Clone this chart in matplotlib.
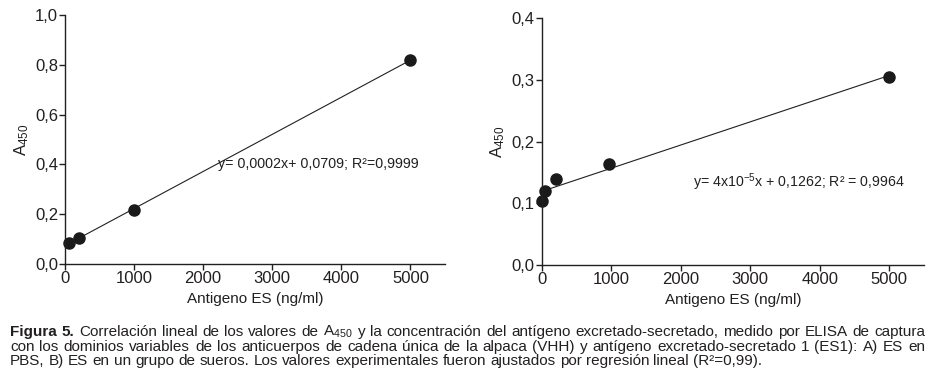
import matplotlib
matplotlib.use("Agg")
import matplotlib.pyplot as plt
import numpy as np

# data
conc_a = [60, 200, 1000, 5000]
abs_a = [0.083, 0.106, 0.217, 0.82]
fit_a_x = [200, 5000]
slope_a, icpt_a = 0.000149, 0.0735

conc_b = [0, 50, 200, 970, 5000]
abs_b = [0.104, 0.1205, 0.139, 0.163, 0.305]
fit_b_x = [50, 5000]
slope_b, icpt_b = 3.76e-5, 0.1193

xticks = [0, 1000, 2000, 3000, 4000, 5000]
yticks_a = [0.0, 0.2, 0.4, 0.6, 0.8, 1.0]
yticks_b = [0.0, 0.1, 0.2, 0.3, 0.4]

eq_a = "y= 0,0002x+ 0,0709; R²=0,9999"
eq_b = "y= 4x10$^{-5}$x + 0,1262; R² = 0,9964"

caption = [
    [("Figura", "bold"), ("5.", "bold")] + [(w, "normal") for w in
        "Correlación lineal de los valores de A$_{450}$ y la concentración del antígeno excretado-secretado, medido por ELISA de captura".split()],
    [(w, "normal") for w in
        "con los dominios variables de los anticuerpos de cadena única de la alpaca (VHH) y antígeno excretado-secretado 1 (ES1): A) ES en".split()],
    [(w, "normal") for w in
        "PBS, B) ES en un grupo de sueros. Los valores experimentales fueron ajustados por regresión lineal (R²=0,99).".split()],
]

ink = "#231f20"
W, H = 932, 388

plt.rcParams["font.family"] = ["Liberation Sans", "DejaVu Sans"]
plt.rcParams["mathtext.fontset"] = "custom"
plt.rcParams["mathtext.rm"] = "Liberation Sans"
plt.rcParams["mathtext.it"] = "Liberation Sans"
plt.rcParams["text.color"] = ink

fig = plt.figure(figsize=(W / 100, H / 100), dpi=100)
ax1 = fig.add_axes([0.0697, 0.3196, 0.4077, 0.6418])
ax2 = fig.add_axes([0.5812, 0.3170, 0.4102, 0.6358])


def style(ax, yticks, ymax):
    ax.set_xlim(0, 5500)
    ax.set_ylim(0, ymax)
    for s in ["top", "right"]:
        ax.spines[s].set_visible(False)
    for s in ["left", "bottom"]:
        ax.spines[s].set_color(ink)
        ax.spines[s].set_linewidth(1.0)
    ax.set_xticks(xticks)
    ax.set_xticklabels([str(t) for t in xticks])
    ax.set_yticks(yticks)
    ax.set_yticklabels([f"{t:.1f}".replace(".", ",") for t in yticks])
    ax.tick_params(direction="out", length=4, width=1, color=ink,
                   labelsize=12, labelcolor=ink, pad=1)
    ax.set_xlabel("Antigeno ES (ng/ml)", fontsize=11, color=ink, labelpad=4.5)
    ax.set_ylabel("A$_{450}$", fontsize=12, color=ink, labelpad=3)
    ax.patch.set_alpha(0)


style(ax1, yticks_a, 1.0)
style(ax2, yticks_b, 0.4)

ax1.plot(fit_a_x, [slope_a * x + icpt_a for x in fit_a_x], color=ink, lw=0.8)
ax1.plot(conc_a, abs_a, "o", color="#1a1a1a", ms=8, clip_on=False)
ax1.text(2220, 0.4, eq_a, fontsize=10.3, ha="left", va="center")

ax2.plot(fit_b_x, [slope_b * x + icpt_b for x in fit_b_x], color=ink, lw=0.8)
ax2.plot(conc_b, abs_b, "o", color="#1a1a1a", ms=8, clip_on=False)
ax2.text(2180, 0.1335, eq_b, fontsize=10.2, ha="left", va="center")

# caption, justified word by word like the printed figure
renderer = fig.canvas.get_renderer()
ys = [332.0, 346.6, 361.2]
x0, x1 = 10, 925
for i, (words, y) in enumerate(zip(caption, ys)):
    objs = [fig.text(0, 1 - y / H, w, fontsize=11, weight=wt, va="center")
            for w, wt in words]
    widths = [o.get_window_extent(renderer).width for o in objs]
    space = 4.2
    if i < len(caption) - 1:
        space = (x1 - x0 - sum(widths)) / (len(objs) - 1)
    x = x0
    for o, w in zip(objs, widths):
        o.set_x(x / W)
        x += w + space

fig.savefig("out.png", dpi=100)
